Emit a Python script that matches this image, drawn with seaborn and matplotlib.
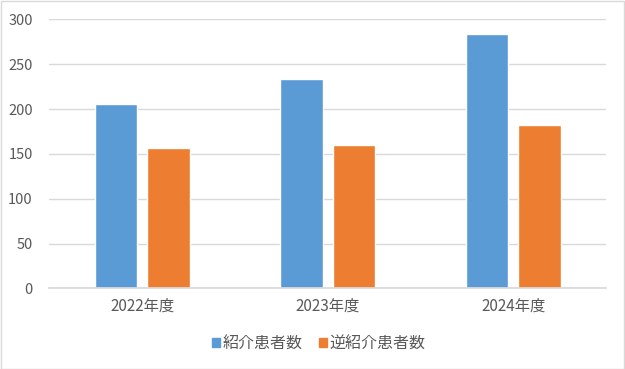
import seaborn as sns
import matplotlib.pyplot as plt
import matplotlib.patches as mpatches
import pandas as pd

years = ['2022年度', '2023年度', '2024年度']
series_names = ['紹介患者数', '逆紹介患者数']
referral = [206, 234, 284]
reverse_referral = [156, 160, 182]
palette = ['#5B9BD5', '#ED7D31']

df = pd.DataFrame({
    'year': years * 2,
    'series': [series_names[0]] * 3 + [series_names[1]] * 3,
    'count': referral + reverse_referral,
})

sns.set_theme(style='white')
plt.rcParams['font.family'] = ['Noto Sans CJK JP', 'DejaVu Sans']

fig = plt.figure(figsize=(6.25, 3.69), dpi=100)
ax = fig.add_axes([0.0789, 0.2184, 0.8907, 0.7293])
sns.barplot(data=df, x='year', y='count', hue='series', palette=palette,
            width=0.566, gap=0.194, saturation=1, ax=ax, legend=False)

ax.set_ylim(0, 300)
ax.set_xlim(-0.5, 2.5)
ax.set_yticks(range(0, 301, 50))
ax.yaxis.grid(True, color='#d9d9d9', linewidth=1)
ax.set_axisbelow(True)
ax.set_xlabel('')
ax.set_ylabel('')
for s in ['top', 'right', 'left']:
    ax.spines[s].set_visible(False)
ax.spines['bottom'].set_color('#d9d9d9')
ax.tick_params(axis='both', length=0, colors='#595959')
ax.tick_params(axis='y', labelsize=10.5, pad=12)
ax.tick_params(axis='x', labelsize=11, pad=7)

handles = [mpatches.Patch(color=c, label=n) for c, n in zip(palette, series_names)]
fig.legend(handles=handles, loc='center', bbox_to_anchor=(0.51, 0.068), ncol=2,
           frameon=False, fontsize=11.5, handlelength=0.5, handleheight=0.5,
           handletextpad=0.2, columnspacing=1.0, labelcolor='#595959')

fig.patches.append(mpatches.Rectangle((0.001, 0.001), 0.997, 0.997, transform=fig.transFigure,
                                      fill=False, edgecolor='#d9d9d9', linewidth=1))

fig.savefig('out.png', dpi=100)
